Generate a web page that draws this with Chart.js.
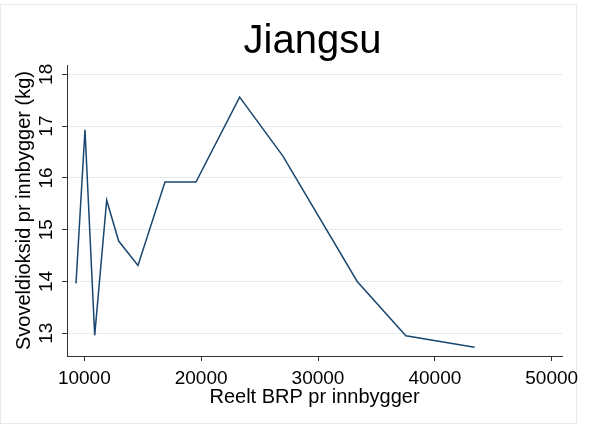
<!DOCTYPE html>
<html>
<head>
<meta charset="utf-8">
<script src="https://cdn.jsdelivr.net/npm/chart.js@4/dist/chart.umd.min.js"></script>
<style>
  html, body { margin: 0; padding: 0; background: #ffffff; }
  #wrap { width: 593px; height: 426px; }
</style>
</head>
<body>
<div id="wrap"><canvas id="c" width="593" height="426"></canvas></div>
<script>
// GDP per capita (real) and sulphur dioxide per inhabitant, Jiangsu
const brpPerCapita = [9290, 10060, 10890, 11916, 12943, 14594, 16903, 19555, 23294, 26998, 33354, 37519, 43396];
const so2PerCapita = [13.96, 16.93, 12.96, 15.57, 14.78, 14.31, 15.92, 15.92, 17.56, 16.42, 14.00, 12.95, 12.73];
const xTicks = [10000, 20000, 30000, 40000, 50000];
const yTicks = [13, 14, 15, 16, 17, 18];

const chartTitle = 'Jiangsu';
const xTitle = 'Reelt BRP pr innbygger';
const yTitle = 'Svoveldioksid pr innbygger (kg)';

const points = brpPerCapita.map((x, i) => ({ x: x, y: so2PerCapita[i] }));

const FONT = 'Arial, "Liberation Sans", Helvetica, sans-serif';
const GRID = '#e3ebef';
const AXIS = '#333333';

// Outer frame and centred title
const decor = {
  id: 'decor',
  beforeDraw(chart) {
    const ctx = chart.ctx;
    ctx.save();
    ctx.fillStyle = '#ffffff';
    ctx.fillRect(0, 0, chart.width, chart.height);
    ctx.strokeStyle = GRID;
    ctx.lineWidth = 1;
    ctx.strokeRect(0.5, 4.5, 576, 419);
    ctx.restore();
  },
  afterDraw(chart) {
    const ctx = chart.ctx;
    const a = chart.chartArea;
    ctx.save();
    ctx.fillStyle = '#000000';
    ctx.font = '40px ' + FONT;
    ctx.textAlign = 'center';
    ctx.textBaseline = 'alphabetic';
    ctx.fillText(chartTitle, (a.left + a.right) / 2 - 2, 53);
    ctx.restore();
  }
};

new Chart(document.getElementById('c'), {
  type: 'line',
  data: {
    datasets: [{
      data: points,
      borderColor: '#1a476f',
      borderWidth: 1.5,
      pointRadius: 0,
      fill: false,
      tension: 0
    }]
  },
  options: {
    responsive: false,
    animation: false,
    devicePixelRatio: 1,
    layout: { padding: { top: 65, left: 0, right: 31, bottom: 0 } },
    plugins: {
      legend: { display: false },
      title: { display: false },
      tooltip: { enabled: false }
    },
    scales: {
      x: {
        type: 'linear',
        min: 8520,
        max: 50880,
        afterBuildTicks: s => { s.ticks = xTicks.map(v => ({ value: v })); },
        afterFit: s => { s.height = 70; s.paddingLeft = 0; s.paddingRight = 0; },
        grid: { drawOnChartArea: false, drawTicks: true, tickLength: 5, tickColor: AXIS },
        border: { display: true, color: AXIS, width: 1 },
        ticks: {
          color: '#000000',
          font: { family: FONT, size: 19 },
          padding: 6,
          maxRotation: 0,
          autoSkip: false,
          callback: v => String(v)
        },
        title: {
          display: true,
          text: xTitle,
          color: '#000000',
          font: { family: FONT, size: 20 },
          padding: { top: 0, bottom: 17 }
        }
      },
      y: {
        type: 'linear',
        min: 12.561,
        max: 18.18,
        afterBuildTicks: s => { s.ticks = yTicks.map(v => ({ value: v })); },
        afterFit: s => { s.width = 67; s.paddingTop = 0; s.paddingBottom = 0; },
        grid: { drawOnChartArea: true, color: GRID, lineWidth: 1, drawTicks: true, tickLength: 5, tickColor: AXIS },
        border: { display: true, color: AXIS, width: 1 },
        ticks: {
          color: '#000000',
          font: { family: FONT, size: 19 },
          padding: 5,
          minRotation: 90,
          maxRotation: 90,
          crossAlign: 'center',
          autoSkip: false,
          callback: v => String(v)
        },
        title: {
          display: true,
          text: yTitle,
          color: '#000000',
          font: { family: FONT, size: 20 },
          padding: { top: 12, bottom: 0 }
        }
      }
    }
  },
  plugins: [decor]
});
</script>
</body>
</html>
